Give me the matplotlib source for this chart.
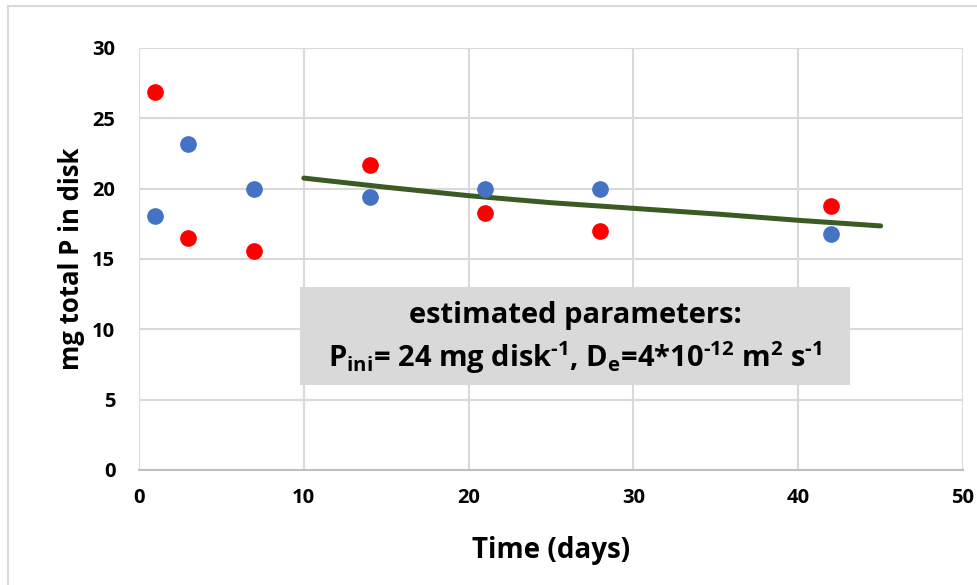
import matplotlib
matplotlib.use("Agg")
import matplotlib.pyplot as plt
from matplotlib.patches import Rectangle

plt.rcParams['font.family'] = ['Open Sans', 'DejaVu Sans']
plt.rcParams['font.weight'] = 'bold'
plt.rcParams['mathtext.fontset'] = 'custom'
plt.rcParams['mathtext.rm'] = 'Open Sans:bold'
plt.rcParams['mathtext.bf'] = 'Open Sans:bold'
plt.rcParams['mathtext.it'] = 'Open Sans:bold'

# measured data (two disks)
days = [1, 3, 7, 14, 21, 28, 42]
p_red = [26.9, 16.5, 15.6, 21.65, 18.25, 17.0, 18.75]
p_blue = [18.05, 23.2, 20.0, 19.4, 19.95, 20.0, 16.8]

# model curve
model_days = [10, 15, 20, 25, 30, 35, 40, 45]
model_p = [20.75, 20.1, 19.5, 19.0, 18.6, 18.2, 17.75, 17.35]

fig = plt.figure(figsize=(9.78, 5.85), dpi=100)
ax = fig.add_axes([0.1421, 0.1966, 0.8426, 0.7214])

# outer chart frame
fig.patches.append(Rectangle((8 / 978, -0.05), 1.1, 1.05 - 6 / 585,
                             transform=fig.transFigure, fill=False,
                             edgecolor='#d9d9d9', linewidth=1.5))

ax.set_xlim(0, 50)
ax.set_ylim(0, 30)
ax.set_xticks(range(0, 51, 10))
ax.set_yticks(range(0, 31, 5))
ax.grid(True, color='#d9d9d9', linewidth=1.5)
ax.set_axisbelow(True)
for s in ['top', 'right', 'left']:
    ax.spines[s].set_visible(False)
ax.spines['bottom'].set_color('#bfbfbf')
ax.spines['bottom'].set_linewidth(1.5)
ax.tick_params(length=0, labelsize=14.5)
ax.tick_params(axis='y', pad=17)
ax.tick_params(axis='x', pad=13)

ax.plot(model_days, model_p, color='#3b5b24', linewidth=3.6,
        solid_capstyle='round', zorder=2)
ax.plot(days, p_blue, 'o', color='#4472c4', markersize=11, zorder=3)
ax.plot(days, p_red, 'o', color='#ff0000', markersize=11, zorder=3)

ax.add_patch(Rectangle((9.77, 6.05), 33.35, 6.95, facecolor='#d9d9d9',
                       edgecolor='none', zorder=4))
ax.text(26.45, 10.95, 'estimated parameters:', ha='center', va='center',
        fontsize=21, fontweight='bold', zorder=5)
ax.text(26.45, 8.0,
        r'P$_{\rm ini}$= 24 mg disk$^{\text{-1}}$, D$_{\rm e}$=4*10$^{\text{-12}}$ m$^{\rm 2}$ s$^{\text{-1}}$',
        ha='center', va='center', fontsize=21, fontweight='bold', zorder=5)

ax.set_xlabel('Time (days)', fontsize=20, fontweight='bold', labelpad=20)
ax.set_ylabel('mg total P in disk', fontsize=18.5, fontweight='bold', labelpad=5)

fig.savefig('out.png', dpi=100)
